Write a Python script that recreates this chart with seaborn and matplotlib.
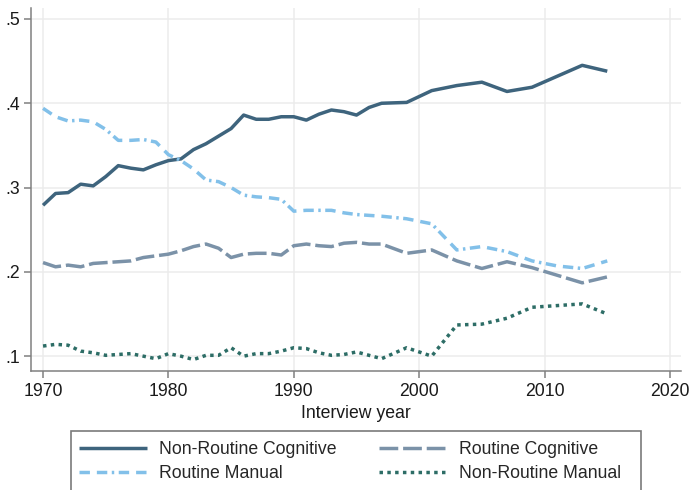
import numpy as np
import pandas as pd
import seaborn as sns
import matplotlib.pyplot as plt
from matplotlib.patches import Rectangle

# interview years: annual up to 1997, every two years after
years = list(range(1970, 1998)) + list(range(1999, 2016, 2))

non_routine_cognitive = [.279, .293, .294, .304, .302, .313, .326, .323, .321, .327,
                         .332, .334, .345, .352, .361, .370, .386, .381, .381, .384,
                         .384, .380, .387, .392, .390, .386, .395, .400,
                         .401, .415, .421, .425, .414, .419, .432, .445, .438]
routine_cognitive = [.211, .206, .208, .206, .210, .211, .212, .213, .217, .219,
                     .221, .225, .230, .233, .228, .217, .221, .222, .222, .220,
                     .231, .233, .231, .230, .234, .235, .233, .233,
                     .222, .226, .213, .204, .212, .205, .196, .187, .194]
routine_manual = [.394, .384, .379, .380, .378, .369, .356, .356, .357, .354,
                  .339, .332, .322, .309, .307, .300, .291, .289, .288, .286,
                  .272, .273, .273, .273, .270, .268, .267, .266,
                  .263, .257, .226, .230, .224, .213, .207, .204, .213]
non_routine_manual = [.112, .114, .113, .106, .104, .101, .102, .103, .100, .097,
                      .103, .100, .096, .101, .101, .110, .100, .103, .103, .106,
                      .110, .109, .104, .101, .102, .105, .101, .097,
                      .110, .100, .137, .138, .145, .158, .160, .162, .150]

x_ticks = [1970, 1980, 1990, 2000, 2010, 2020]
y_ticks = [.1, .2, .3, .4, .5]
y_tick_labels = [".1", ".2", ".3", ".4", ".5"]

df = pd.DataFrame({
    "year": years,
    "Non-Routine Cognitive": non_routine_cognitive,
    "Routine Cognitive": routine_cognitive,
    "Routine Manual": routine_manual,
    "Non-Routine Manual": non_routine_manual,
})

sns.set_style("white")
plt.rcParams["font.family"] = ["Liberation Sans", "DejaVu Sans"]
plt.rcParams["lines.solid_capstyle"] = "butt"
plt.rcParams["lines.dash_capstyle"] = "butt"

W, H = 693, 490
fig = plt.figure(figsize=(W / 100, H / 100), dpi=100)
ax = fig.add_axes([31 / W, (H - 371) / H, (681 - 31) / W, (371 - 8) / H])

lw = 2.5
styles = {
    "Non-Routine Cognitive": ("#3e647d", "-"),
    "Routine Cognitive": ("#7b92a8", (0, (5.4, 1.4))),
    "Routine Manual": ("#82c0e9", (0, (3.0, 2.0, 3.0, 1.3, 0.7, 1.3))),
    "Non-Routine Manual": ("#2d6d66", (0, (1.0, 1.25))),
}
for name, (col, ls) in styles.items():
    sns.lineplot(data=df, x="year", y=name, color=col, linestyle=ls,
                 linewidth=lw, label=name, ax=ax)

ax.set_xlim(1969.04, 2020.88)
ax.set_ylim(0.0824, 0.513)
ax.set_xticks(x_ticks)
ax.set_yticks(y_ticks)
ax.set_yticklabels(y_tick_labels)
ax.grid(True, color="#ececec", linewidth=1.1)
ax.set_axisbelow(True)
for s in ["top", "right"]:
    ax.spines[s].set_visible(False)
for s in ["left", "bottom"]:
    ax.spines[s].set_color("#808080")
    ax.spines[s].set_linewidth(1.1)
ax.tick_params(axis="both", which="both", direction="out", length=5, width=1.1,
               color="#808080", labelsize=12.7, labelcolor="#1a1a1a",
               left=True, bottom=True)
ax.tick_params(axis="x", pad=3.5)
ax.tick_params(axis="y", pad=3)
ax.set_xlabel("Interview year", fontsize=12.7, color="#1a1a1a", labelpad=4)
ax.set_ylabel("")

handles, labels = ax.get_legend_handles_labels()
ax.get_legend().remove()
order = [0, 2, 1, 3]
fig.legend([handles[i] for i in order], [labels[i] for i in order],
           ncol=2, frameon=False, loc="upper left",
           bbox_to_anchor=(79 / W, 1 - 441 / H), borderpad=0, borderaxespad=0,
           handlelength=3.85, handletextpad=0.68, columnspacing=2.4,
           labelspacing=0.42, fontsize=12.7)

fig.patches.append(Rectangle((71 / W, 1 - 491 / H), (641 - 71) / W, 60 / H,
                             transform=fig.transFigure, fill=False,
                             edgecolor="#7a7a7a", linewidth=1.2))

fig.savefig("out.png", dpi=100)
